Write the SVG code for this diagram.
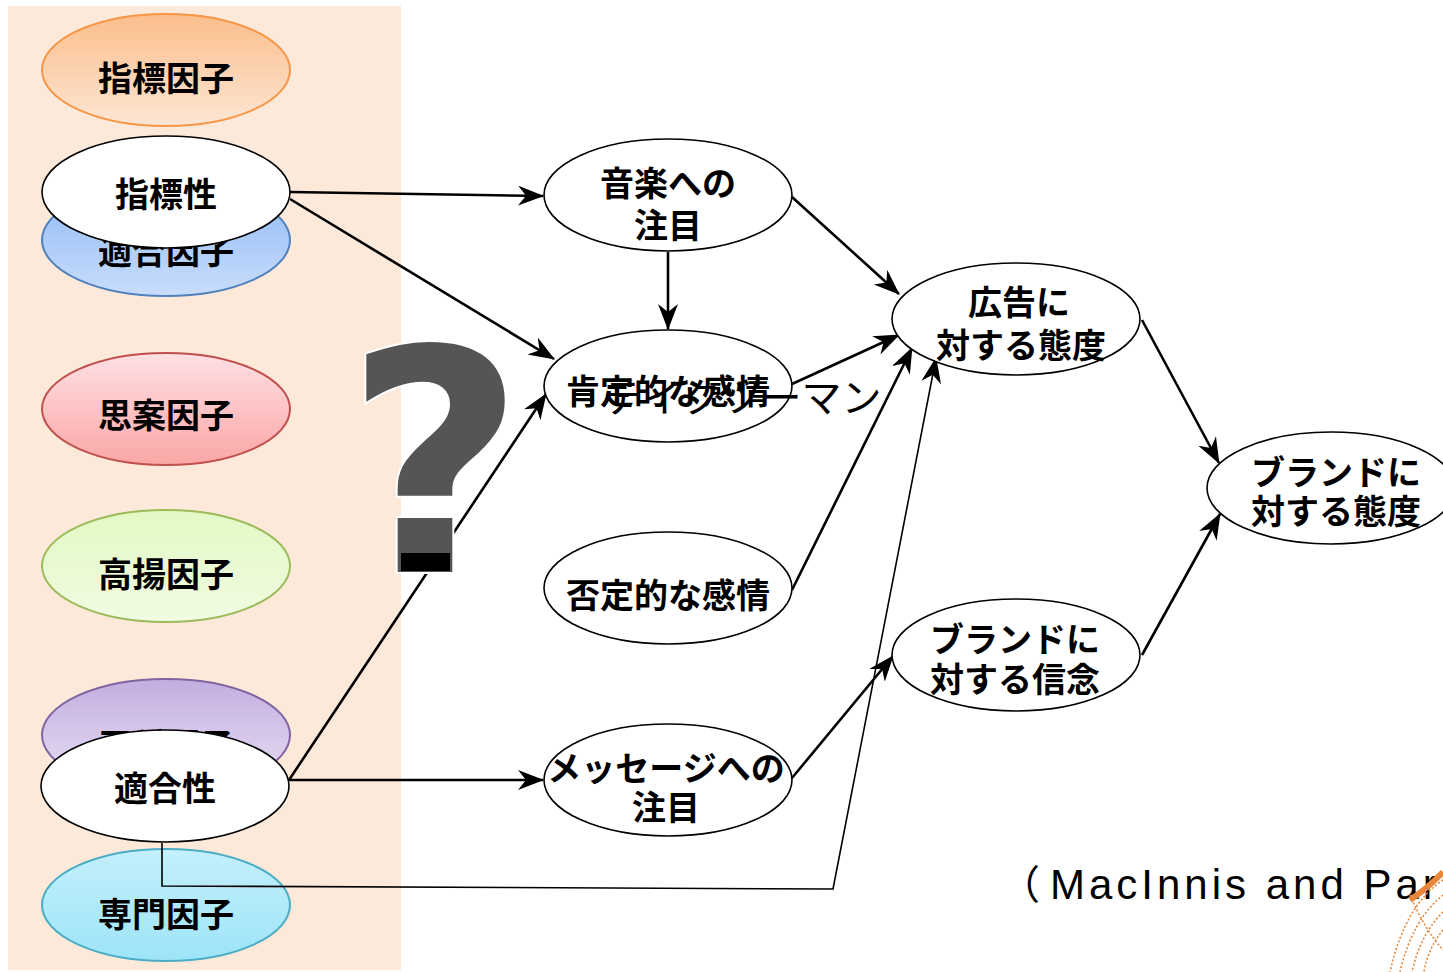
<svg xmlns="http://www.w3.org/2000/svg" width="1443" height="972" viewBox="0 0 1443 972">
<defs>
<linearGradient id="gOr" x1="0" y1="0" x2="0" y2="1"><stop offset="0" stop-color="#FBBE8C"/><stop offset="1" stop-color="#FDE6D4"/></linearGradient>
<linearGradient id="gBl" x1="0" y1="0" x2="0" y2="1"><stop offset="0" stop-color="#8FB9F5"/><stop offset="1" stop-color="#C9DDFC"/></linearGradient>
<linearGradient id="gRd" x1="0" y1="0" x2="0" y2="1"><stop offset="0" stop-color="#FEE0E4"/><stop offset="1" stop-color="#FBA6A6"/></linearGradient>
<linearGradient id="gGr" x1="0" y1="0" x2="0" y2="1"><stop offset="0" stop-color="#E2F9C4"/><stop offset="1" stop-color="#F1FBE2"/></linearGradient>
<linearGradient id="gPu" x1="0" y1="0" x2="0" y2="1"><stop offset="0" stop-color="#C3AEE0"/><stop offset="1" stop-color="#E9E0F4"/></linearGradient>
<linearGradient id="gCy" x1="0" y1="0" x2="0" y2="1"><stop offset="0" stop-color="#C4F0FC"/><stop offset="1" stop-color="#9DE4F8"/></linearGradient>
<marker id="arr" markerUnits="userSpaceOnUse" markerWidth="28" markerHeight="22" refX="25" refY="10" orient="auto">
<path d="M0,0 L26,10 L0,20 L8,10 z" fill="#000"/>
</marker>
</defs>
<style>
.n{stroke:#000;stroke-width:1.6;fill:#fff}
.t{font-family:"Noto Sans CJK JP","Noto Sans CJK SC",sans-serif;font-weight:bold;font-size:34px;fill:#000;text-anchor:middle;dominant-baseline:central}
.c{fill:none;stroke:#000;stroke-width:2.6}
.c2{fill:none;stroke:#000;stroke-width:1.6}
</style>
<rect x="8" y="6" width="393" height="964" fill="#FDE9DA"/>

<g id="factor-shihyo"><ellipse cx="166" cy="70" rx="124" ry="56" fill="url(#gOr)" stroke="#F79646" stroke-width="2"/><text class="t" x="166" y="76">指標因子</text></g>
<g id="factor-tekigo"><ellipse cx="166" cy="240" rx="124" ry="56" fill="url(#gBl)" stroke="#4F81BD" stroke-width="2"/><text class="t" x="166" y="249">適合因子</text></g>
<g id="node-shihyosei"><ellipse class="n" cx="166" cy="192" rx="124" ry="56"/><text class="t" x="166" y="192">指標性</text></g>
<g id="factor-shian"><ellipse cx="166" cy="409" rx="124" ry="56" fill="url(#gRd)" stroke="#C0504D" stroke-width="2"/><text class="t" x="166" y="413">思案因子</text></g>
<g id="factor-koyo"><ellipse cx="166" cy="566" rx="124" ry="56" fill="url(#gGr)" stroke="#9BBB59" stroke-width="2"/><text class="t" x="166" y="572">高揚因子</text></g>
<g id="factor-purple"><ellipse cx="166" cy="735" rx="124" ry="56" fill="url(#gPu)" stroke="#8064A2" stroke-width="2"/><text class="t" x="166" y="743">平穏因子</text></g>
<g id="node-tekigosei"><ellipse class="n" cx="165" cy="786" rx="124" ry="56"/><text class="t" x="165" y="786">適合性</text></g>
<g id="factor-senmon"><ellipse cx="166" cy="905" rx="124" ry="56" fill="url(#gCy)" stroke="#4BACC6" stroke-width="2"/><text class="t" x="166" y="912">専門因子</text></g>

<g id="connectors">
<line class="c" x1="290" y1="192" x2="543" y2="196" marker-end="url(#arr)"/>
<line class="c" x1="290" y1="199" x2="554" y2="359" marker-end="url(#arr)"/>
<line class="c" x1="668" y1="252" x2="668" y2="329" marker-end="url(#arr)"/>
<line class="c" x1="792" y1="197" x2="899" y2="294" marker-end="url(#arr)"/>
<line class="c" x1="792" y1="384" x2="899" y2="335" marker-end="url(#arr)"/>
<line class="c" x1="792" y1="590" x2="912" y2="348" marker-end="url(#arr)"/>
<line class="c" x1="289" y1="780" x2="546" y2="394" marker-end="url(#arr)"/>
<line class="c" x1="289" y1="780" x2="543" y2="780" marker-end="url(#arr)"/>
<line class="c" x1="792" y1="778" x2="893" y2="656" marker-end="url(#arr)"/>
<polyline class="c2" points="162,843 162,886 833,889 936,358" marker-end="url(#arr)"/>
<line class="c" x1="1142" y1="320" x2="1219" y2="463" marker-end="url(#arr)"/>
<line class="c" x1="1142" y1="655" x2="1220" y2="514" marker-end="url(#arr)"/>
</g>

<g id="qmark">
<text x="345" y="572" font-family="DejaVu Sans" font-weight="bold" font-size="310" fill="#555" stroke="#fff" stroke-width="4" paint-order="stroke">?</text>
<rect x="401" y="553" width="49" height="18" fill="#000"/>
</g>

<g id="node-ongaku"><ellipse class="n" cx="668" cy="195" rx="124" ry="56"/><text class="t" x="668" y="181">音楽への</text><text class="t" x="668" y="223">注目</text></g>
<g id="node-koutei"><ellipse class="n" cx="668" cy="386" rx="124" ry="56"/><text class="t" x="668" y="389">肯定的な感情</text>
<text x="742" y="395" font-family="'Noto Sans CJK JP',sans-serif" font-size="40" text-anchor="middle" dominant-baseline="central" fill="#000">テイクツーマン</text></g>
<g id="node-hitei"><ellipse class="n" cx="668" cy="588" rx="124" ry="56"/><text class="t" x="668" y="593">否定的な感情</text></g>
<g id="node-message"><ellipse class="n" cx="668" cy="780" rx="124" ry="56"/><text class="t" x="666" y="766" font-size="32">メッセージへの</text><text class="t" x="666" y="805">注目</text></g>
<g id="node-koukoku"><ellipse class="n" cx="1016" cy="319" rx="124" ry="56"/><text class="t" x="1019" y="300">広告に</text><text class="t" x="1021" y="343">対する態度</text></g>
<g id="node-shinnen"><ellipse class="n" cx="1016" cy="655" rx="124" ry="56"/><text class="t" x="1015" y="637">ブランドに</text><text class="t" x="1015" y="677">対する信念</text></g>
<g id="node-brand"><ellipse class="n" cx="1331" cy="488" rx="124" ry="56"/><text class="t" x="1336" y="470">ブランドに</text><text class="t" x="1336" y="509">対する態度</text></g>

<text x="1000" y="899" font-family="'Liberation Sans',sans-serif" font-size="42" fill="#000"><tspan font-family="'Noto Sans CJK JP',sans-serif" font-size="40">（</tspan><tspan x="1050" letter-spacing="4">MacInnis and Par</tspan></text>

<g fill="none" stroke="#E8873A" stroke-width="1.6" stroke-dasharray="2 2">
<path d="M1443,880 Q1405,905 1390,972"/>
<path d="M1443,895 Q1412,920 1400,972"/>
<path d="M1443,912 Q1420,935 1412,972"/>
<path d="M1443,930 Q1428,948 1424,972"/>
<path d="M1410,895 Q1425,930 1443,950"/>
</g>
<path d="M1410,900 Q1428,888 1443,872" fill="none" stroke="#E8873A" stroke-width="6"/>
</svg>
